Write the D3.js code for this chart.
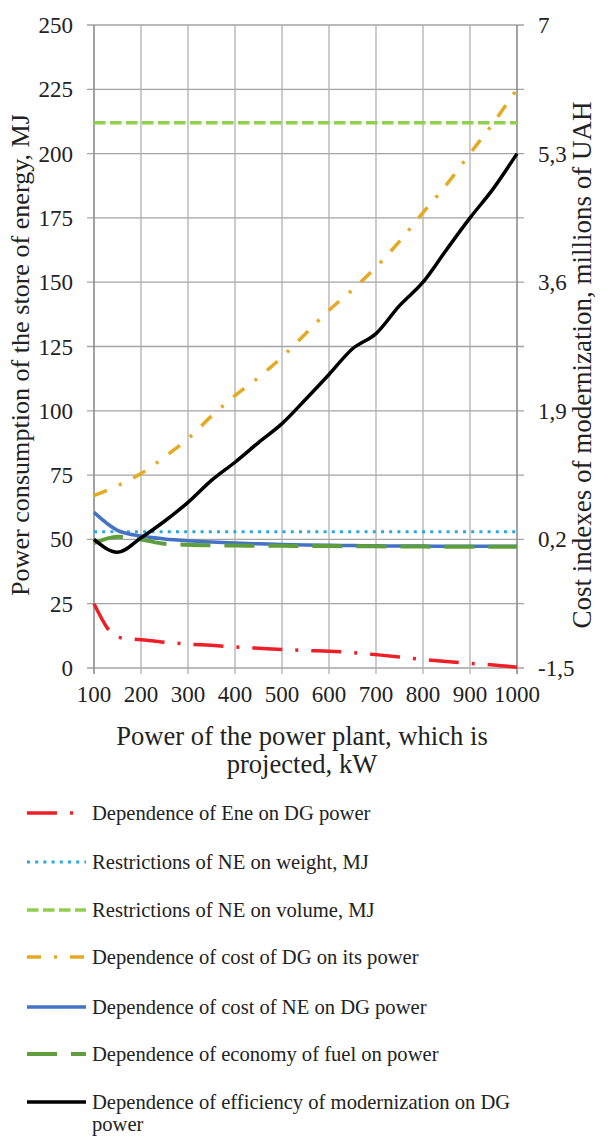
<!DOCTYPE html>
<html>
<head>
<meta charset="utf-8">
<script src="https://cdn.jsdelivr.net/npm/d3@7"></script>
<style>
  html, body { margin: 0; padding: 0; background: #fff; }
  svg { display: block; }
  text { font-family: "Liberation Serif", "Times New Roman", serif; fill: #222; }
</style>
</head>
<body>
<svg id="chart" width="608" height="1138"></svg>
<script>
// ---- Data ----
const power = [100,150,200,250,300,350,400,450,500,550,600,650,700,750,800,850,900,950,1000];

// Left axis (MJ)
const eneValues      = [25,12,11,10,9.3,8.8,8.2,7.7,7.2,6.8,6.5,6,5.2,4.3,3.3,2.5,1.8,1.2,0.3];
const weightValues   = [53,53,53,53,53,53,53,53,53,53,53,53,53,53,53,53,53,53,53];
const volumeValues   = [212,212,212,212,212,212,212,212,212,212,212,212,212,212,212,212,212,212,212];
const costNEValues   = [60.5,53.5,51.3,50.2,49.5,49,48.6,48.3,48,47.8,47.7,47.6,47.5,47.45,47.4,47.35,47.3,47.3,47.3];
const economyValues  = [48.5,51,50,48.3,47.9,47.7,47.6,47.55,47.5,47.45,47.4,47.35,47.3,47.25,47.2,47.15,47.1,47.1,47.1];

// Right axis (millions of UAH)
const costDGValues   = [0.78,0.91,1.07,1.29,1.53,1.83,2.10,2.34,2.61,2.92,3.23,3.50,3.80,4.14,4.52,4.89,5.30,5.71,6.15];
const effValues      = [0.2,0.03,0.22,0.44,0.69,0.98,1.22,1.48,1.73,2.05,2.38,2.72,2.92,3.29,3.6,4.03,4.45,4.84,5.3];

const leftTicks  = [0,25,50,75,100,125,150,175,200,225,250];
const rightTicks = [-1.5,0.2,1.9,3.6,5.3,7];
const xTicks     = [100,200,300,400,500,600,700,800,900,1000];

const seriesNames = [
  "Dependence of Ene on DG power",
  "Restrictions of NE on weight, MJ",
  "Restrictions of NE on volume, MJ",
  "Dependence of cost of DG on its power",
  "Dependence of cost of NE on DG power",
  "Dependence of economy of  fuel on power",
  "Dependence of efficiency of modernization on DG"
];

const leftTitle  = "Power consumption of the store of energy, MJ";
const rightTitle = "Cost indexes of modernization, millions of UAH";
const xTitle1 = "Power of the power plant, which is";
const xTitle2 = "projected, kW";

// ---- Layout ----
const plotL = 94, plotR = 517, plotT = 25, plotB = 668;
const svg = d3.select("#chart");

const x = d3.scaleLinear().domain([100,1000]).range([plotL, plotR]);
const yL = d3.scaleLinear().domain([0,250]).range([plotB, plotT]);
const yR = d3.scaleLinear().domain([-1.5,7]).range([plotB, plotT]);

// Gridlines
const grid = svg.append("g");
grid.selectAll("line.h").data(leftTicks).join("line")
  .attr("x1", plotL - 7).attr("x2", plotR + 7)
  .attr("y1", d => yL(d)).attr("y2", d => yL(d))
  .attr("stroke", "#a3a3a3").attr("stroke-width", 1.3);
grid.selectAll("line.v").data(xTicks).join("line")
  .attr("x1", d => x(d)).attr("x2", d => x(d))
  .attr("y1", plotT).attr("y2", plotB + 6)
  .attr("stroke", d => (d === 100 || d === 1000) ? "#8c8c8c" : "#b0b0b0")
  .attr("stroke-width", d => (d === 100 || d === 1000) ? 1.6 : 1.3);

// Tick labels
const fs = 23;
svg.append("g").selectAll("text").data(leftTicks).join("text")
  .attr("x", 73).attr("y", d => yL(d)).attr("dy", "0.35em")
  .attr("text-anchor", "end").attr("font-size", fs)
  .text(d => d);
svg.append("g").selectAll("text").data(rightTicks).join("text")
  .attr("x", 538).attr("y", d => yR(d)).attr("dy", "0.35em")
  .attr("text-anchor", "start").attr("font-size", fs)
  .text(d => String(d).replace(".", ","));
svg.append("g").selectAll("text").data(xTicks).join("text")
  .attr("x", d => x(d)).attr("y", 702)
  .attr("text-anchor", "middle").attr("font-size", fs)
  .text(d => d);

// Axis titles
svg.append("text")
  .attr("transform", `translate(29,355) rotate(-90)`)
  .attr("text-anchor", "middle").attr("font-size", 26.1)
  .text(leftTitle);
svg.append("text")
  .attr("transform", `translate(591,365) rotate(-90)`)
  .attr("text-anchor", "middle").attr("font-size", 27)
  .text(rightTitle);
svg.append("text").attr("x", 302).attr("y", 745)
  .attr("text-anchor", "middle").attr("font-size", 26.6).text(xTitle1);
svg.append("text").attr("x", 302).attr("y", 773)
  .attr("text-anchor", "middle").attr("font-size", 26.6).text(xTitle2);

// Series
const styles = [
  {vals: eneValues,     y: yL, color: "#ee1f26", w: 3.5, dash: "30,13,3,13"},
  {vals: weightValues,  y: yL, color: "#27a9e1", w: 3,   dash: "3,5.2"},
  {vals: volumeValues,  y: yL, color: "#8fce4f", w: 3.5, dash: "11.5,4.5"},
  {vals: costDGValues,  y: yR, color: "#e6a922", w: 3.5, dash: "14,13,3,13"},
  {vals: costNEValues,  y: yL, color: "#4472c4", w: 3.5, dash: null},
  {vals: economyValues, y: yL, color: "#5e9e3c", w: 4,   dash: "30,14"},
  {vals: effValues,     y: yR, color: "#000000", w: 3.5, dash: null}
];

const lines = svg.append("g");
styles.forEach(s => {
  const data = power.map((p, i) => [p, s.vals[i]]);
  const gen = d3.line().x(d => x(d[0])).y(d => s.y(d[1])).curve(d3.curveMonotoneX);
  lines.append("path").datum(data)
    .attr("d", gen)
    .attr("fill", "none")
    .attr("stroke", s.color)
    .attr("stroke-width", s.w)
    .attr("stroke-dasharray", s.dash)
    .attr("stroke-linejoin", "round");
});

// Legend
const legendY = [813, 862, 910, 957, 1007, 1054, 1102];
const lfs = 20.6;
const lg = svg.append("g");
styles.forEach((s, i) => {
  lg.append("line")
    .attr("x1", 27).attr("x2", 86)
    .attr("y1", legendY[i]).attr("y2", legendY[i])
    .attr("stroke", s.color).attr("stroke-width", s.w)
    .attr("stroke-dasharray", s.dash);
  lg.append("text")
    .attr("x", 92).attr("y", legendY[i]).attr("dy", "0.35em")
    .attr("font-size", lfs)
    .text(seriesNames[i]);
});
lg.append("text").attr("x", 92).attr("y", 1131)
  .attr("font-size", lfs).text("power");
</script>
</body>
</html>
